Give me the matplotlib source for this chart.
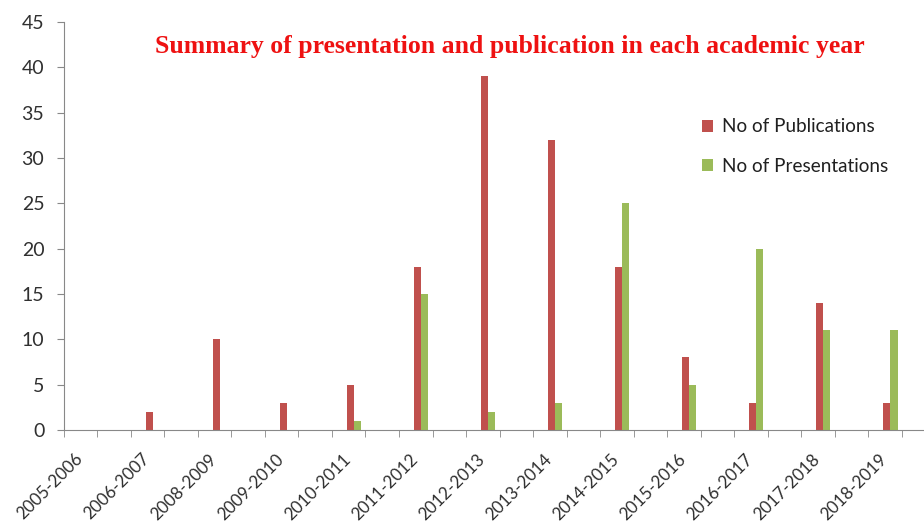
import numpy as np
import matplotlib
matplotlib.use("Agg")
import matplotlib.pyplot as plt
from matplotlib.ticker import FixedLocator

years = ["2005-2006", "2006-2007", "2008-2009", "2009-2010", "2010-2011",
         "2011-2012", "2012-2013", "2013-2014", "2014-2015", "2015-2016",
         "2016-2017", "2017-2018", "2018-2019"]
publications = [0, 2, 10, 3, 5, 18, 39, 32, 18, 8, 3, 14, 3]
presentations = [0, 0, 0, 0, 1, 15, 2, 3, 25, 5, 20, 11, 11]

red = "#C0504D"
green = "#9BBB59"

plt.rcParams["font.family"] = ["Lato", "DejaVu Sans"]

fig = plt.figure(figsize=(9.24, 5.25), dpi=100)
ax = fig.add_axes([0.069, 0.181, 0.931, 0.777])

x = np.arange(len(years))
w = 0.105
ax.bar(x - w / 2, publications, w, color=red, label="No of Publications")
ax.bar(x + w / 2, presentations, w, color=green, label="No of Presentations")

ax.set_ylim(0, 45)
ax.set_yticks(range(0, 46, 5))
ax.set_xlim(-0.33, 12.5)

# labels sit at the category centres, tick marks every half category
ax.set_xticks(x)
ax.set_xticklabels(years, rotation=45, ha="right", fontsize=12.3)
ax.xaxis.set_minor_locator(FixedLocator(np.arange(-0.33, 12.5, 0.5)))
ax.tick_params(axis="x", which="major", length=0, pad=15)
ax.tick_params(axis="x", which="minor", length=5, color="#888888")
ax.tick_params(axis="y", length=5, color="#888888", pad=9, labelsize=14)
ax.tick_params(labelcolor="#303030")

for s in ["top", "right"]:
    ax.spines[s].set_visible(False)
for s in ["left", "bottom"]:
    ax.spines[s].set_color("#888888")

fig.text(0.552, 0.912, "Summary of presentation and publication in each academic year",
         color="#EE1111", fontsize=18.5, fontweight="bold", family="Liberation Serif",
         ha="center", va="center")

ax.legend(loc="upper left", bbox_to_anchor=(0.722, 0.806), frameon=False,
          fontsize=13.6, handlelength=0.6, handleheight=0.6, handletextpad=0.45,
          labelspacing=1.2, labelcolor="#202020")

fig.savefig("out.png", dpi=100)
